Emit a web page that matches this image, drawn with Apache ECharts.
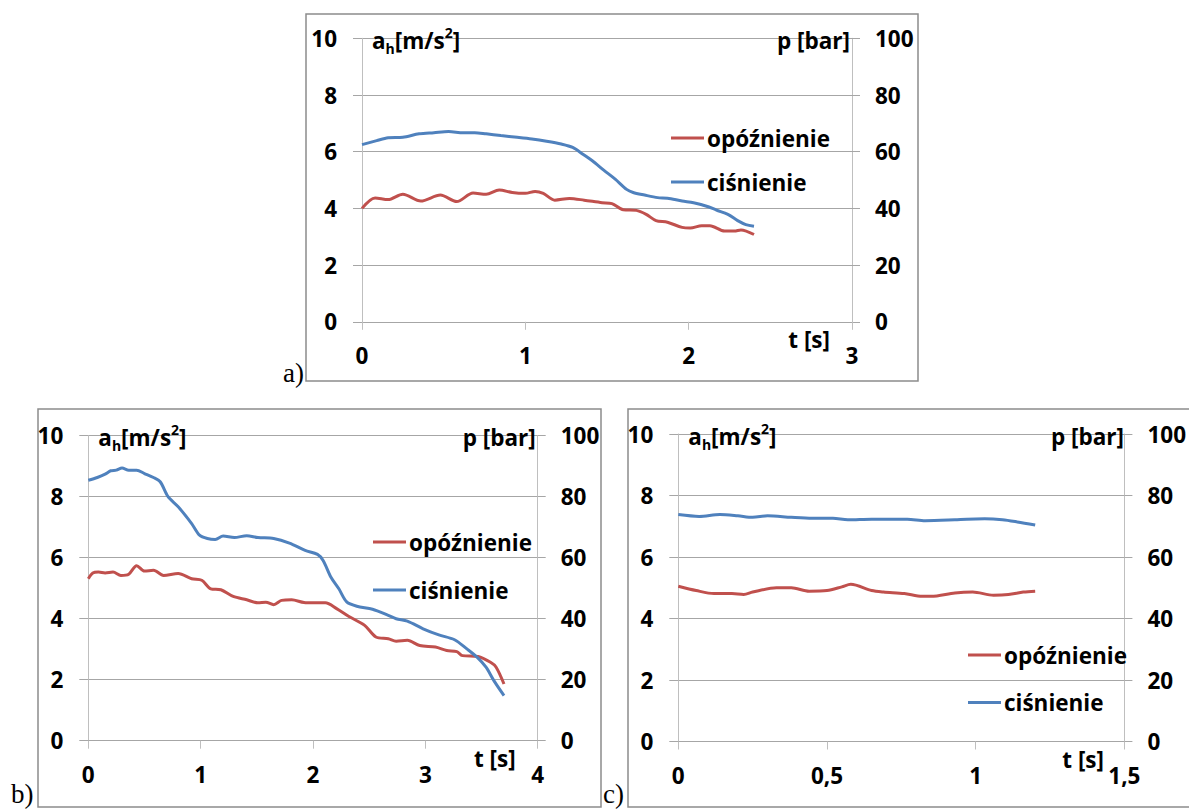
<!DOCTYPE html>
<html>
<head>
<meta charset="utf-8">
<script src="https://cdn.jsdelivr.net/npm/echarts@6/dist/echarts.min.js"></script>
<style>
html,body{margin:0;padding:0;background:#fff;}
#chart{width:1189px;height:810px;}
</style>
</head>
<body>
<div id="chart"></div>
<script>
// ---------- DATA ----------
const seriesNames = ['opóźnienie', 'ciśnienie'];
// chart a
const aRedT = [0, 0.08, 0.16, 0.25, 0.36, 0.48, 0.58, 0.68, 0.76, 0.84, 0.92, 1.00, 1.06, 1.11, 1.18, 1.27, 1.36, 1.47, 1.53, 1.60, 1.68, 1.74, 1.80, 1.87, 1.96, 2.01, 2.08, 2.13, 2.22, 2.28, 2.32, 2.40];
const aRedV = [4.0, 4.37, 4.31, 4.5, 4.26, 4.47, 4.24, 4.54, 4.5, 4.65, 4.56, 4.53, 4.6, 4.53, 4.29, 4.35, 4.29, 4.2, 4.17, 3.95, 3.93, 3.79, 3.57, 3.51, 3.33, 3.31, 3.39, 3.39, 3.2, 3.2, 3.24, 3.08];
const aBlueT = [0, 0.09, 0.16, 0.25, 0.35, 0.44, 0.53, 0.62, 0.69, 0.76, 0.85, 0.95, 1.04, 1.13, 1.22, 1.29, 1.35, 1.41, 1.48, 1.55, 1.62, 1.66, 1.73, 1.81, 1.87, 1.96, 2.03, 2.12, 2.17, 2.24, 2.30, 2.35, 2.40];
const aBlueV = [62.5, 63.9, 64.9, 65.1, 66.3, 66.7, 67.1, 66.7, 66.7, 66.3, 65.7, 65.1, 64.5, 63.7, 62.7, 61.5, 59.2, 56.8, 53.5, 50.3, 46.7, 45.6, 44.7, 43.8, 43.6, 42.6, 42.0, 40.6, 39.4, 37.9, 35.7, 34.3, 33.7];
// chart b
const bRedT = [0, 0.04, 0.09, 0.15, 0.22, 0.29, 0.36, 0.43, 0.50, 0.58, 0.67, 0.80, 0.92, 1.01, 1.09, 1.18, 1.29, 1.41, 1.51, 1.58, 1.65, 1.72, 1.81, 1.92, 2.00, 2.11, 2.21, 2.32, 2.46, 2.56, 2.67, 2.74, 2.84, 2.95, 3.09, 3.19, 3.28, 3.33, 3.47, 3.58, 3.63, 3.70];
const bRedV = [5.31, 5.5, 5.53, 5.5, 5.53, 5.42, 5.46, 5.74, 5.56, 5.59, 5.42, 5.48, 5.31, 5.26, 4.98, 4.95, 4.73, 4.62, 4.52, 4.54, 4.46, 4.6, 4.62, 4.53, 4.52, 4.52, 4.33, 4.07, 3.78, 3.4, 3.34, 3.26, 3.29, 3.12, 3.07, 2.96, 2.92, 2.79, 2.76, 2.57, 2.41, 1.86];
const bBlueT = [0, 0.08, 0.15, 0.20, 0.25, 0.30, 0.36, 0.43, 0.50, 0.58, 0.64, 0.71, 0.80, 0.92, 0.99, 1.06, 1.13, 1.20, 1.30, 1.41, 1.51, 1.65, 1.79, 1.93, 2.04, 2.09, 2.16, 2.23, 2.30, 2.39, 2.53, 2.67, 2.74, 2.84, 2.98, 3.12, 3.26, 3.37, 3.46, 3.54, 3.61, 3.70];
const bBlueV = [85.4, 86.3, 87.4, 88.5, 88.7, 89.4, 88.7, 88.7, 87.6, 86.3, 84.9, 80.0, 76.7, 71.2, 67.4, 66.3, 66.0, 67.1, 66.6, 67.2, 66.6, 66.3, 64.8, 62.4, 61.1, 59.1, 53.6, 49.8, 45.5, 44.1, 43.1, 41.1, 40.0, 39.2, 36.7, 34.7, 33.1, 30.1, 27.4, 24.1, 19.7, 14.8];
// chart c
const cRedT = [0, 0.06, 0.12, 0.18, 0.22, 0.25, 0.33, 0.38, 0.44, 0.50, 0.55, 0.58, 0.65, 0.69, 0.76, 0.82, 0.85, 0.93, 0.99, 1.06, 1.11, 1.16, 1.20];
const cRedV = [5.05, 4.91, 4.81, 4.81, 4.78, 4.86, 5.0, 5.0, 4.89, 4.91, 5.03, 5.11, 4.91, 4.86, 4.81, 4.72, 4.72, 4.83, 4.86, 4.76, 4.78, 4.86, 4.89];
const cBlueT = [0, 0.07, 0.14, 0.20, 0.25, 0.30, 0.38, 0.45, 0.52, 0.57, 0.65, 0.77, 0.83, 0.93, 0.97, 1.03, 1.09, 1.14, 1.20];
const cBlueV = [73.8, 73.2, 73.8, 73.4, 72.9, 73.4, 72.9, 72.6, 72.6, 72.1, 72.3, 72.3, 71.8, 72.1, 72.3, 72.4, 72.1, 71.4, 70.4];
// tick labels
const xTicksA = ['0', '1', '2', '3'];
const xTicksB = ['0', '1', '2', '3', '4'];
const xTicksC = ['0', '0,5', '1', '1,5'];
const yLeftTicks = ['0', '2', '4', '6', '8', '10'];
const yRightTicks = ['0', '20', '40', '60', '80', '100'];
const panelLabels = ['a)', 'b)', 'c)'];

// ---------- STYLE / LAYOUT ----------
const FONT = '"Open Sans"';
const FS = 22.5;
const RED = '#C0504D';
const BLUE = '#4F81BD';
const GRIDC = '#A6A6A6';
const AXISC = '#BFBFBF';
const BORDER = '#8C8C8C';

const panels = [
  { grid: {left: 362, top: 38.3, width: 490, height: 283.5}, xmax: 3, xint: 1, xt: xTicksA,
    rt: aRedT, rv: aRedV, bt: aBlueT, bv: aBlueV,
    box: [306, 14, 612, 367], lab: {x: 304, y: 386, align: 'right'},
    legend: {left: 666, top: 121, gap: 20} },
  { grid: {left: 88.3, top: 435.7, width: 449.4, height: 305}, xmax: 4, xint: 1, xt: xTicksB,
    rt: bRedT, rv: bRedV, bt: bBlueT, bv: bBlueV,
    box: [38, 409, 563, 398], lab: {x: 11, y: 807, align: 'left'},
    legend: {left: 368, top: 525, gap: 24} },
  { grid: {left: 678.3, top: 434, width: 447.7, height: 307.5}, xmax: 1.5, xint: 0.5, xt: xTicksC,
    rt: cRedT, rv: cRedV, bt: cBlueT, bv: cBlueV,
    box: [628, 409, 580, 398], lab: {x: 603, y: 807, align: 'left'},
    legend: {left: 963, top: 638, gap: 23.5} }
];

const grids = [], xAxes = [], yAxes = [], series = [], legends = [], graphics = [];
const txt = {color: '#000', fontFamily: FONT, fontWeight: 'bold', fontSize: FS};

panels.forEach((p, i) => {
  grids.push(Object.assign({containLabel: false}, p.grid));
  xAxes.push({
    type: 'value', gridIndex: i, min: 0, max: p.xmax, interval: p.xint,
    axisLine: {show: true, lineStyle: {color: GRIDC, width: 1}},
    axisTick: {show: true, inside: false, length: 8, lineStyle: {color: AXISC, width: 1}},
    axisLabel: Object.assign({margin: 22, formatter: (v) => p.xt[Math.round(v / p.xint)]}, txt),
    splitLine: {show: false}
  });
  yAxes.push({
    type: 'value', gridIndex: i, position: 'left', min: 0, max: 10, interval: 2,
    axisLine: {show: true, lineStyle: {color: AXISC, width: 1}},
    axisTick: {show: true, length: 9, lineStyle: {color: GRIDC, width: 1}},
    axisLabel: Object.assign({margin: 25, formatter: (v) => yLeftTicks[Math.round(v / 2)]}, txt),
    splitLine: {show: true, lineStyle: {color: GRIDC, width: 1}}
  });
  yAxes.push({
    type: 'value', gridIndex: i, position: 'right', min: 0, max: 100, interval: 20,
    axisLine: {show: true, lineStyle: {color: AXISC, width: 1}},
    axisTick: {show: true, length: 8, lineStyle: {color: GRIDC, width: 1}},
    axisLabel: Object.assign({margin: 23, formatter: (v) => yRightTicks[Math.round(v / 20)]}, txt),
    splitLine: {show: false}
  });
  series.push({
    name: seriesNames[0], type: 'line', xAxisIndex: i, yAxisIndex: 2 * i,
    data: p.rt.map((t, k) => [t, p.rv[k]]),
    showSymbol: false, smooth: 0.3, color: RED,
    lineStyle: {color: RED, width: 3}, itemStyle: {color: RED}, z: 3
  });
  series.push({
    name: seriesNames[1], type: 'line', xAxisIndex: i, yAxisIndex: 2 * i + 1,
    data: p.bt.map((t, k) => [t, p.bv[k]]),
    showSymbol: false, smooth: 0.3, color: BLUE,
    lineStyle: {color: BLUE, width: 3}, itemStyle: {color: BLUE}, z: 3
  });
  legends.push({
    data: seriesNames, orient: 'vertical', left: p.legend.left, top: p.legend.top,
    itemWidth: 33, itemHeight: 3, itemGap: p.legend.gap, icon: 'rect',
    textStyle: Object.assign({lineHeight: 24, padding: [0, 0, 0, -2]}, txt),
    selectedMode: false
  });
  const g = p.grid;
  const right = g.left + g.width, bottom = g.top + g.height;
  // outer frame
  graphics.push({type: 'rect', shape: {x: p.box[0], y: p.box[1], width: p.box[2], height: p.box[3]},
    style: {fill: 'none', stroke: BORDER, lineWidth: 1.5}, z: -1, silent: true});
  // left axis title
  graphics.push({type: 'text', x: g.left + 10, y: g.top + 2, silent: true, z: 10,
    style: {text: '{b|a}{sub|h}{b|[m/s}{sup|2}{b|]}', verticalAlign: 'middle', align: 'left',
      rich: {
        b: {fontFamily: FONT, fontWeight: 'bold', fontSize: FS, lineHeight: 30, verticalAlign: 'middle', fill: '#000'},
        sub: {fontFamily: FONT, fontWeight: 'bold', fontSize: 14, lineHeight: 14, verticalAlign: 'bottom', fill: '#000'},
        sup: {fontFamily: FONT, fontWeight: 'bold', fontSize: 14, lineHeight: 18, verticalAlign: 'top', fill: '#000'}
      }}});
  // right axis title
  graphics.push({type: 'text', x: right - 2, y: g.top + 2, silent: true, z: 10,
    style: {text: 'p [bar]', align: 'right', verticalAlign: 'middle', fill: '#000',
      font: 'bold ' + FS + 'px ' + FONT}});
  // x axis title
  graphics.push({type: 'text', x: right - 22, y: bottom + 18, silent: true, z: 10,
    style: {text: 't [s]', align: 'right', verticalAlign: 'middle', fill: '#000',
      font: 'bold ' + FS + 'px ' + FONT}});
  // panel label
  graphics.push({type: 'text', x: p.lab.x, y: p.lab.y, silent: true, z: 10,
    style: {text: panelLabels[i], align: p.lab.align, verticalAlign: 'bottom', fill: '#000',
      font: '27px "Liberation Serif"'}});
});

const chart = echarts.init(document.getElementById('chart'), null, {renderer: 'svg'});
chart.setOption({
  animation: false,
  backgroundColor: '#fff',
  grid: grids, xAxis: xAxes, yAxis: yAxes, series: series, legend: legends,
  graphic: graphics
});
</script>
</body>
</html>
